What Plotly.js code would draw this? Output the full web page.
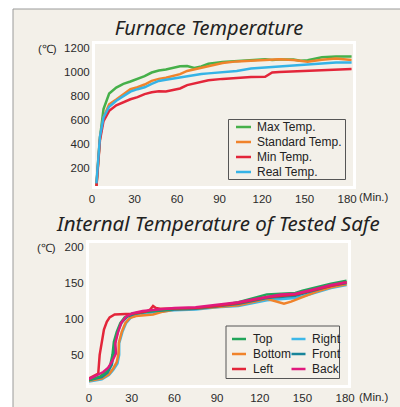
<!DOCTYPE html>
<html><head><meta charset="utf-8">
<script src="https://cdn.plot.ly/plotly-3.0.1.min.js"></script>
<style>html,body{margin:0;padding:0;background:#fff}#chart{width:400px;height:407px}</style>
</head><body><div id="chart"></div>
<script>
// ---------- Furnace temperature (top) ----------
const furnaceTime   = [1, 3.5, 6, 10, 15, 20, 25, 30, 35, 40, 45, 50, 55, 60, 65, 70, 75, 80, 90, 100, 110, 120, 125, 130, 140, 145, 150, 160, 170, 181];
const maxTemp       = [50, 450, 690, 820, 870, 900, 920, 940, 965, 995, 1012, 1020, 1035, 1048, 1050, 1033, 1045, 1068, 1082, 1092, 1100, 1106, 1100, 1104, 1104, 1094, 1098, 1122, 1128, 1128];
const standardTemp  = [50, 450, 620, 730, 770, 815, 856, 872, 895, 925, 942, 952, 968, 982, 1008, 1022, 1036, 1048, 1074, 1088, 1093, 1096, 1100, 1106, 1100, 1094, 1086, 1102, 1112, 1100];
const minTemp       = [40, 430, 590, 675, 722, 750, 772, 790, 815, 830, 838, 836, 848, 862, 890, 905, 918, 930, 942, 952, 958, 960, 995, 1000, 1005, 1008, 1010, 1015, 1020, 1025];
const realTemp      = [70, 460, 620, 710, 760, 800, 836, 856, 872, 900, 925, 935, 945, 952, 965, 975, 982, 988, 1000, 1008, 1028, 1036, 1044, 1046, 1056, 1060, 1062, 1068, 1078, 1078];
const furnaceNames  = ['Max Temp.', 'Standard Temp.', 'Min Temp.', 'Real Temp.'];
const furnaceColors = ['#46b04a', '#f0832b', '#e3263a', '#35b3e6'];

// ---------- Internal temperature (bottom) ----------
const topTime    = [0, 8, 12, 15, 16.5, 17.5, 19.5, 22, 25, 30, 40, 50, 60, 75, 90, 105, 115, 125, 135, 140, 145, 150, 160, 170, 181];
const topVal     = [15, 20, 26, 36, 50, 68, 82, 94, 102, 107, 110, 112, 114, 115, 118, 123, 129, 134, 135, 135, 136, 139, 144, 149, 153];
const bottomTime = [0, 9, 14, 17, 19.5, 20.8, 21, 23, 25.5, 28.5, 33, 40, 45, 52, 60, 75, 90, 105, 125, 132, 137, 142, 150, 160, 170, 181];
const bottomVal  = [14, 17, 23, 31, 40, 52, 67, 82, 94, 101, 104, 105, 106, 110, 113, 114, 116, 119, 128, 124, 121, 124, 130, 138, 144, 148];
const leftTime   = [0, 3, 6.5, 7.5, 9, 10.5, 12.5, 14.5, 18, 25, 30, 40, 43, 45, 47, 50, 60, 75, 90, 105, 125, 145, 160, 170, 181];
const leftVal    = [17, 20, 24, 50, 70, 85, 96, 102, 106, 106, 107, 110, 113, 118, 115, 114, 114, 115, 118, 122, 130, 134, 141, 146, 151];
const rightTime  = [0, 9, 14, 17, 20, 21.2, 21.2, 23.5, 26, 29.5, 35, 40, 60, 75, 90, 105, 125, 145, 150, 160, 170, 181];
const rightVal   = [13, 16, 22, 29, 38, 50, 66, 82, 94, 102, 106, 108, 112, 113, 116, 118, 126, 129, 131, 137, 143, 147];
const frontTime  = [0, 9, 13, 16, 17.5, 18.5, 20.5, 23, 27, 32, 40, 50, 60, 75, 90, 105, 125, 145, 150, 160, 170, 181];
const frontVal   = [15, 19, 25, 36, 52, 70, 84, 95, 103, 107, 110, 112, 113, 114, 117, 121, 129, 132, 135, 140, 146, 150];
const backTime   = [0, 5, 10, 13.5, 16, 19, 18.5, 20.2, 22.5, 26, 30.7, 37.7, 50, 60, 75, 90, 105, 115, 125, 135, 145, 150, 160, 170, 181];
const backVal    = [16, 21, 26, 32, 40, 52, 66, 80, 94, 103, 108, 111, 113, 115, 116, 120, 123, 127, 131, 134, 135, 137, 142, 147, 151];
const safeNames  = ['Top', 'Bottom', 'Left', 'Right', 'Front', 'Back'];
const safeColors = ['#21a55a', '#f0832b', '#e3263a', '#3db8e8', '#17849a', '#e0197d'];

const xTicks1 = [0, 30, 60, 90, 120, 150, 180];
const yTicks1 = [200, 400, 600, 800, 1000, 1200];
const xTicks2 = [0, 30, 60, 90, 120, 150, 180];
const yTicks2 = [50, 100, 150, 200];

// ---------- helpers (pixel -> paper) ----------
const W = 400, H = 407;
const fx = p => p / W;
const fy = p => 1 - p / H;

const LW = 2.5;
const furnaceData = [maxTemp, standardTemp, minTemp, realTemp];
const traces = [];
furnaceData.forEach((vals, i) => {
  traces.push({x: furnaceTime, y: vals, xaxis: 'x', yaxis: 'y', mode: 'lines', name: furnaceNames[i],
    line: {color: furnaceColors[i], width: LW}, showlegend: false, hoverinfo: 'skip'});
});
const safeData = {
  Right: [rightTime, rightVal], Bottom: [bottomTime, bottomVal], Front: [frontTime, frontVal],
  Top: [topTime, topVal], Left: [leftTime, leftVal], Back: [backTime, backVal]
};
['Right', 'Bottom', 'Front', 'Top', 'Left', 'Back'].forEach(n => {
  const i = safeNames.indexOf(n);
  traces.push({x: safeData[n][0], y: safeData[n][1], xaxis: 'x2', yaxis: 'y2', mode: 'lines', name: n,
    line: {color: safeColors[i], width: LW}, showlegend: false, hoverinfo: 'skip'});
});

const tickFont = {family: 'Liberation Sans, Arial, sans-serif', size: 11.5, color: '#2a2a2a'};
const legFont = {family: 'Liberation Sans, Arial, sans-serif', size: 12, color: '#222'};
const titleFont = {family: 'Noto Sans, Open Sans, sans-serif', size: 20, color: '#222', style: 'italic'};

const axBase = {showgrid: false, zeroline: false, showline: true, linecolor: '#ffffff', linewidth: 3,
  mirror: true, ticks: '', tickfont: tickFont, fixedrange: true};

const shapes = [
  {type: 'rect', xref: 'paper', yref: 'paper', x0: fx(13), x1: 1, y0: 0, y1: fy(9),
    fillcolor: '#f3f0e9', line: {width: 0}, layer: 'below'},
  {type: 'line', xref: 'paper', yref: 'paper', x0: fx(13), x1: fx(13), y0: 0, y1: fy(9),
    line: {color: '#9a9a9a', width: 1}, layer: 'below'},
  {type: 'line', xref: 'paper', yref: 'paper', x0: fx(13), x1: 1, y0: fy(9), y1: fy(9),
    line: {color: '#9a9a9a', width: 1}, layer: 'below'},
  // legend boxes
  {type: 'rect', xref: 'paper', yref: 'paper', x0: fx(228.5), x1: fx(345.5), y0: fy(179.5), y1: fy(119.5),
    line: {color: '#555', width: 1}, fillcolor: 'rgba(0,0,0,0)'},
  {type: 'rect', xref: 'paper', yref: 'paper', x0: fx(226), x1: fx(339.5), y0: fy(378.5), y1: fy(326),
    line: {color: '#555', width: 1}, fillcolor: 'rgba(0,0,0,0)'}
];
const annotations = [
  {text: 'Internal Temperature of Tested Safe', xref: 'paper', yref: 'paper', x: fx(218), y: fy(223),
    xanchor: 'center', yanchor: 'middle', showarrow: false, font: Object.assign({}, titleFont, {size: 20.5})},
  {text: '(℃)', xref: 'paper', yref: 'paper', x: fx(47), y: fy(49), xanchor: 'center', yanchor: 'middle', showarrow: false, font: tickFont},
  {text: '(℃)', xref: 'paper', yref: 'paper', x: fx(46), y: fy(248), xanchor: 'center', yanchor: 'middle', showarrow: false, font: tickFont},
  {text: '(Min.)', xref: 'paper', yref: 'paper', x: fx(374), y: fy(197), xanchor: 'center', yanchor: 'middle', showarrow: false, font: tickFont},
  {text: '(Min.)', xref: 'paper', yref: 'paper', x: fx(374), y: fy(397), xanchor: 'center', yanchor: 'middle', showarrow: false, font: tickFont}
];
// top legend
furnaceNames.forEach((n, i) => {
  const yy = 127 + i * 15;
  shapes.push({type: 'line', xref: 'paper', yref: 'paper', x0: fx(236), x1: fx(251), y0: fy(yy), y1: fy(yy),
    line: {color: furnaceColors[i], width: 2.5}});
  annotations.push({text: n, xref: 'paper', yref: 'paper', x: fx(255), y: fy(yy), xanchor: 'left', yanchor: 'middle',
    showarrow: false, font: legFont});
});
// bottom legend (2 columns)
safeNames.forEach((n, i) => {
  const col = Math.floor(i / 3), row = i % 3;
  const yy = 339 + row * 15;
  const lx = col === 0 ? 232 : 291.5;
  shapes.push({type: 'line', xref: 'paper', yref: 'paper', x0: fx(lx), x1: fx(lx + 14), y0: fy(yy), y1: fy(yy),
    line: {color: safeColors[i], width: 2.5}});
  annotations.push({text: n, xref: 'paper', yref: 'paper', x: fx(lx + 18.5), y: fy(yy), xanchor: 'left', yanchor: 'middle',
    showarrow: false, font: legFont});
});

const layout = {
  width: W, height: H, margin: {l: 0, r: 0, t: 0, b: 0},
  paper_bgcolor: '#ffffff', plot_bgcolor: '#e3e7eb', showlegend: false,
  title: {text: 'Furnace Temperature', x: fx(209), y: fy(28), xanchor: 'center', yanchor: 'middle', font: titleFont},
  xaxis: Object.assign({}, axBase, {domain: [fx(95), fx(353)], range: [0, 182], tickvals: xTicks1, anchor: 'y', ticklabelshift: -3}),
  yaxis: Object.assign({}, axBase, {domain: [fy(186.4), fy(44)], range: [45, 1233], tickvals: yTicks1, anchor: 'x'}),
  xaxis2: Object.assign({}, axBase, {domain: [fx(89), fx(348)], range: [0, 182], tickvals: xTicks2, anchor: 'y2'}),
  yaxis2: Object.assign({}, axBase, {domain: [fy(385), fy(243)], range: [8, 205.5], tickvals: yTicks2, anchor: 'x2'}),
  shapes: shapes, annotations: annotations
};
Plotly.newPlot('chart', traces, layout, {displayModeBar: false, staticPlot: true});
</script></body></html>
